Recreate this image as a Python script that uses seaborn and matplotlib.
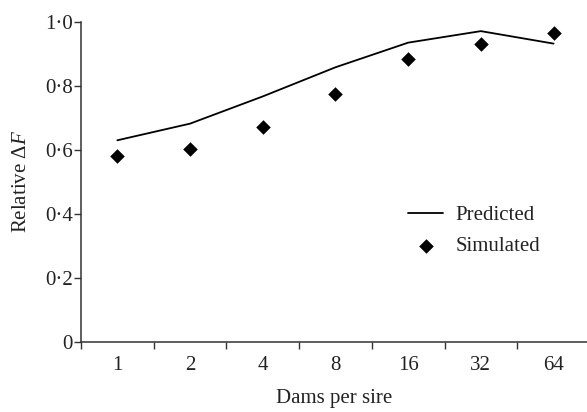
import numpy as np
import pandas as pd
import matplotlib
matplotlib.use("Agg")
import matplotlib.pyplot as plt
import seaborn as sns

# Data
dams_per_sire = ["1", "2", "4", "8", "16", "32", "64"]
predicted = [0.630, 0.682, 0.767, 0.858, 0.935, 0.971, 0.932]
simulated = [0.580, 0.604, 0.673, 0.775, 0.884, 0.932, 0.966]
y_ticks = [0.0, 0.2, 0.4, 0.6, 0.8, 1.0]
y_tick_labels = ["0", "0·2", "0·4", "0·6", "0·8", "1·0"]

sns.set_theme(style="ticks")
plt.rcParams["font.family"] = ["Liberation Serif", "DejaVu Serif"]
plt.rcParams["mathtext.fontset"] = "custom"
plt.rcParams["mathtext.rm"] = "Liberation Serif"
plt.rcParams["mathtext.it"] = "Liberation Serif:italic"

pos = np.arange(len(dams_per_sire))
df = pd.DataFrame({"pos": pos, "Predicted": predicted, "Simulated": simulated})

fig = plt.figure(figsize=(5.87, 4.12), dpi=100)
ax = fig.add_axes([0.138, 0.170, 0.862, 0.777])

sns.lineplot(data=df, x="pos", y="Predicted", ax=ax, color="black",
             linewidth=1.3, label="Predicted")
sns.scatterplot(data=df, x="pos", y="Simulated", ax=ax, color="black",
                marker="D", s=55, edgecolor="black", linewidth=0, label="Simulated")

ax.set_xlim(-0.5, 6.46)
ax.set_ylim(0, 1.0)

ax.set_xticks(pos)
ax.set_xticklabels(dams_per_sire, fontsize=15)
ax.set_xticks(np.arange(-0.5, 6.0, 1.0), minor=True)
ax.tick_params(axis="x", which="major", length=0, pad=10, colors="#222222")
ax.tick_params(axis="x", which="minor", length=5, width=1, color="#333333", direction="out")

ax.set_yticks(y_ticks)
ax.set_yticklabels(y_tick_labels, fontsize=15)
ax.tick_params(axis="y", length=5, width=1, color="#333333", pad=1, colors="#222222")
ax.tick_params(axis="y", which="major", color="#333333")

for s in ["top", "right"]:
    ax.spines[s].set_visible(False)
for s in ["left", "bottom"]:
    ax.spines[s].set_linewidth(1.1)
    ax.spines[s].set_color("#333333")

ax.set_xlabel("Dams per sire", fontsize=15, color="#222222", labelpad=10)
ax.set_ylabel(r"Relative $\Delta\mathit{F}$", fontsize=15, color="#222222", labelpad=10)

leg = ax.legend(loc="center left", bbox_to_anchor=(0.646, 0.347), frameon=False,
                fontsize=15, borderpad=0, borderaxespad=0, handlelength=1.7,
                handletextpad=0.6, labelspacing=0.55)
for t in leg.get_texts():
    t.set_color("#222222")

fig.savefig("out.png", dpi=100)
